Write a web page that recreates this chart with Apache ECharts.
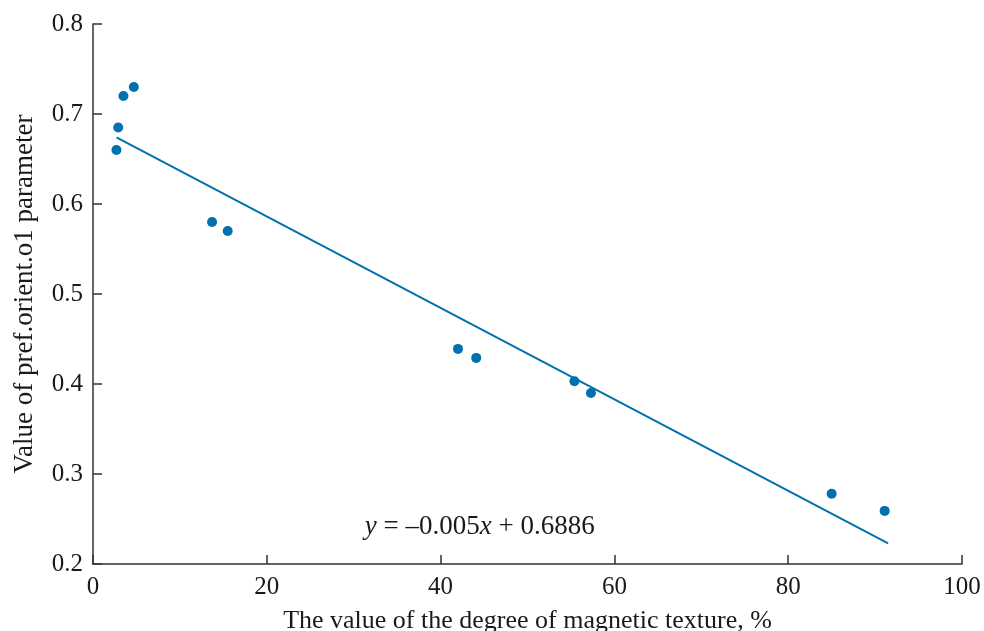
<!DOCTYPE html>
<html>
<head>
<meta charset="utf-8">
<script src="https://cdn.jsdelivr.net/npm/echarts@6/dist/echarts.min.js"></script>
<style>html,body{margin:0;padding:0;background:#fff}#c{width:984px;height:631px}</style>
</head>
<body>
<div id="c"></div>
<script>
const xValues = [2.7, 2.9, 3.5, 4.7, 13.7, 15.5, 42.0, 44.1, 55.4, 57.3, 85.0, 91.1];
const yValues = [0.660, 0.685, 0.720, 0.730, 0.580, 0.570, 0.439, 0.429, 0.403, 0.390, 0.278, 0.259];
const trendX = [2.7, 91.5];
const trendY = [0.674, 0.223];
const xTicks = [0, 20, 40, 60, 80, 100];
const yTicks = [0.2, 0.3, 0.4, 0.5, 0.6, 0.7, 0.8];
const equationAt = [44.5, 0.241];

const FONT = '"Liberation Serif", "DejaVu Serif", serif';
const BLUE = '#0070af';
const INK = '#1a1a1a';

const chart = echarts.init(document.getElementById('c'), null, {renderer: 'canvas'});
const option = {
  animation: false,
  backgroundColor: '#fff',
  grid: {left: 93, right: 22, top: 24, bottom: 67, containLabel: false, outerBoundsMode: 'none'},
  xAxis: {
    type: 'value', min: 0, max: 100, interval: 20,
    name: 'The value of the degree of magnetic texture, %',
    nameLocation: 'middle', nameGap: 44,
    nameTextStyle: {fontFamily: FONT, fontSize: 26, color: INK},
    axisLine: {show: true, onZero: false, lineStyle: {color: '#333', width: 1.5}},
    axisTick: {show: true, inside: true, length: 9, lineStyle: {color: '#333', width: 1.5}},
    axisLabel: {fontFamily: FONT, fontSize: 25, color: INK, margin: 11,
      formatter: v => xTicks.includes(v) ? String(v) : ''},
    splitLine: {show: false}
  },
  yAxis: {
    type: 'value', min: 0.2, max: 0.8, interval: 0.1,
    name: 'Value of pref.orient.o1 parameter',
    nameLocation: 'middle', nameGap: 55,
    nameTextStyle: {fontFamily: FONT, fontSize: 27, color: INK},
    axisLine: {show: true, onZero: false, lineStyle: {color: '#333', width: 1.5}},
    axisTick: {show: true, inside: true, length: 9, lineStyle: {color: '#333', width: 1.5}},
    axisLabel: {fontFamily: FONT, fontSize: 25, color: INK, margin: 10,
      formatter: v => {
        const t = yTicks.find(k => Math.abs(k - v) < 1e-6);
        return t !== undefined ? t.toFixed(1) : '';
      }},
    splitLine: {show: false}
  },
  series: [
    {
      type: 'line',
      data: trendX.map((x, i) => [x, trendY[i]]),
      showSymbol: false, symbol: 'none',
      lineStyle: {color: BLUE, width: 2},
      z: 2
    },
    {
      type: 'scatter',
      data: xValues.map((x, i) => [x, yValues[i]]),
      symbol: 'circle', symbolSize: 10,
      itemStyle: {color: BLUE, opacity: 1},
      z: 3
    }
  ]
};
chart.setOption(option);

const p = chart.convertToPixel({gridIndex: 0}, equationAt);
chart.setOption({
  graphic: [{
    type: 'text',
    x: p[0], y: p[1],
    style: {
      text: '{i|y} = –0.005{i|x} + 0.6886',
      rich: {i: {fontStyle: 'italic', fontFamily: FONT, fontSize: 27, fill: INK}},
      fontFamily: FONT, fontSize: 27, fill: INK,
      align: 'center', verticalAlign: 'middle'
    }
  }]
});
</script>
</body>
</html>
